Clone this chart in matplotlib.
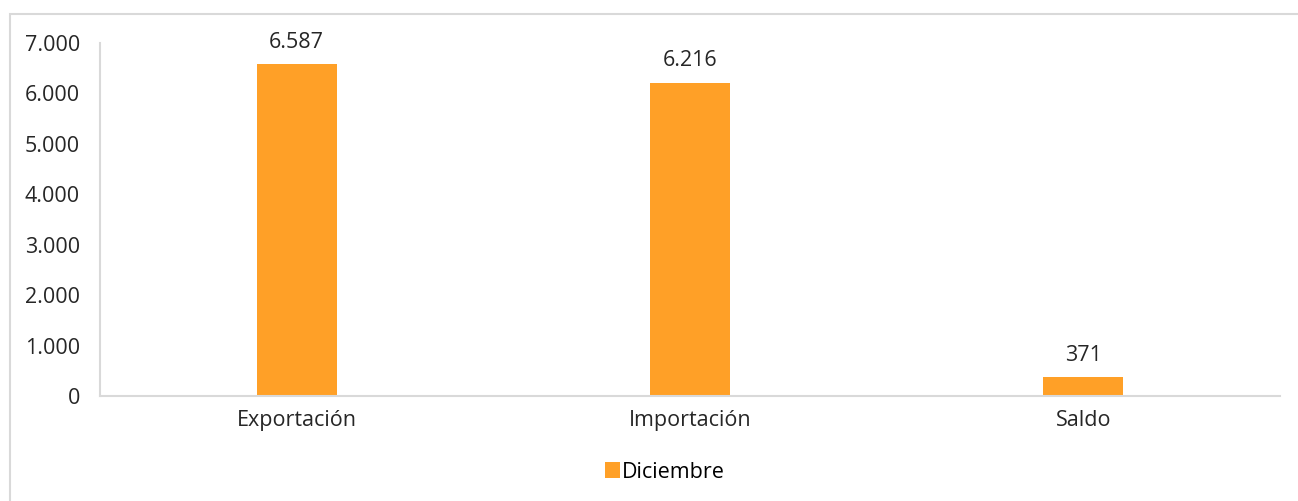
import matplotlib.pyplot as plt
from matplotlib.patches import Rectangle

categories = ["Exportación", "Importación", "Saldo"]
values = [6587, 6216, 371]
value_labels = ["6.587", "6.216", "371"]
y_ticks = [0, 1000, 2000, 3000, 4000, 5000, 6000, 7000]
y_tick_labels = ["0", "1.000", "2.000", "3.000", "4.000", "5.000", "6.000", "7.000"]
series_name = "Diciembre"

plt.rcParams['font.family'] = ['Open Sans', 'DejaVu Sans']
FS = 15.5

fig = plt.figure(figsize=(12.98, 5.01), dpi=100)
# light frame around the chart area
fig.patches.append(Rectangle((10 / 1298, -0.1), 1.2, (501 - 14) / 501 + 0.1,
                             transform=fig.transFigure, fill=False,
                             edgecolor="#D9D9D9", linewidth=1.5))

ax = fig.add_axes([100 / 1298, (501 - 396) / 501, 1180 / 1298, 353 / 501])
bars = ax.bar(range(len(categories)), values, width=0.203, color="#FFA027",
              label=series_name)
for x, v, lab in zip(range(len(categories)), values, value_labels):
    ax.text(x, v + 220, lab, ha="center", va="bottom", fontsize=FS, color="#262626")

ax.set_xlim(-0.5, 2.5)
ax.set_ylim(0, 7000)
ax.set_yticks(y_ticks)
ax.set_yticklabels(y_tick_labels)
ax.set_xticks(range(len(categories)))
ax.set_xticklabels(categories)
ax.tick_params(axis="both", length=0, labelsize=FS, colors="#262626")
ax.tick_params(axis="y", pad=14.5)
ax.tick_params(axis="x", pad=10)
for s in ["top", "right"]:
    ax.spines[s].set_visible(False)
for s in ["left", "bottom"]:
    ax.spines[s].set_color("#D9D9D9")
    ax.spines[s].set_linewidth(1.5)

fig.legend(loc="center", bbox_to_anchor=(665 / 1298, 1 - 472 / 501), frameon=False,
           fontsize=FS, handlelength=0.7, handleheight=0.7, handletextpad=0.1)

fig.savefig("out.png", dpi=100)
